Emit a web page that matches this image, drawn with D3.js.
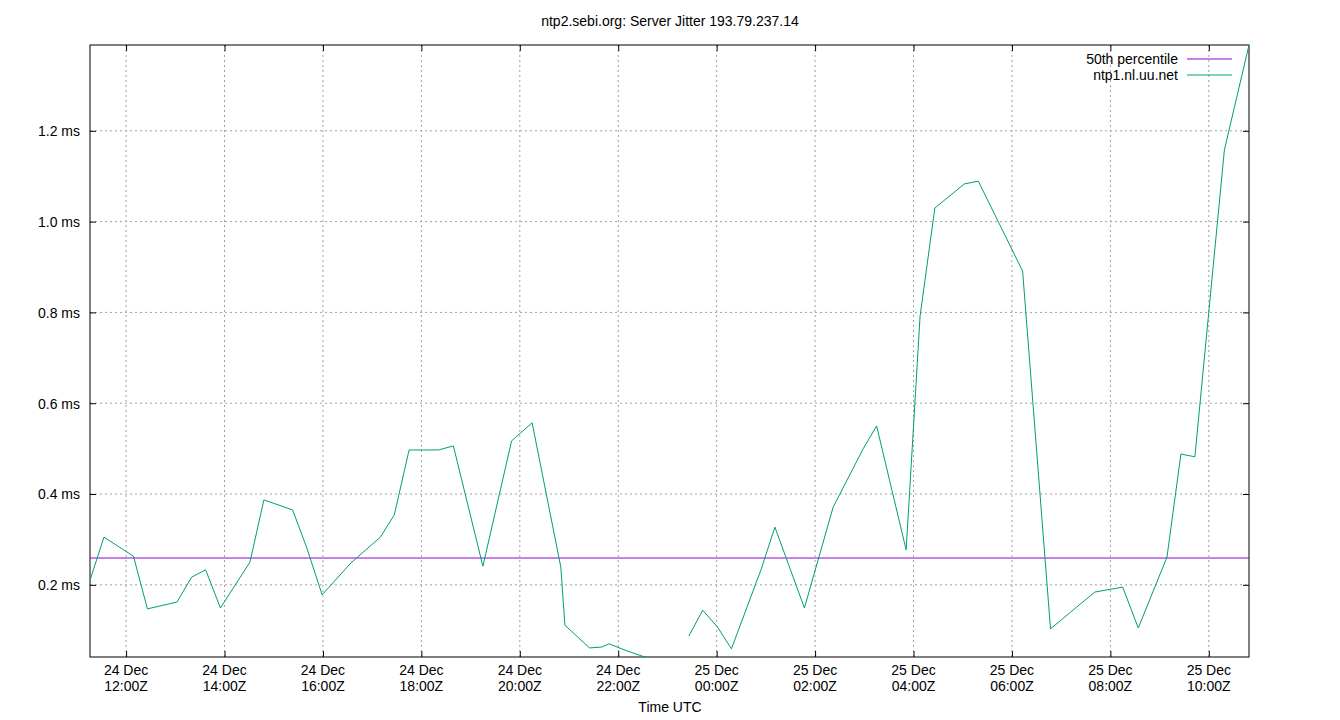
<!DOCTYPE html>
<html>
<head>
<meta charset="utf-8">
<script src="https://cdn.jsdelivr.net/npm/d3@7"></script>
<style>
body { margin: 0; background: #fff; }
text { font-family: "Liberation Sans", Arial, sans-serif; font-size: 14px; fill: #000; }
</style>
</head>
<body>
<script>
// times (UTC) and jitter in ms, null = gap
const times = ["2023-12-24T11:16","2023-12-24T11:33","2023-12-24T12:09","2023-12-24T12:26","2023-12-24T13:02","2023-12-24T13:20","2023-12-24T13:37","2023-12-24T13:55","2023-12-24T14:31","2023-12-24T14:48","2023-12-24T15:23","2023-12-24T15:40","2023-12-24T15:59","2023-12-24T16:34","2023-12-24T17:10","2023-12-24T17:27","2023-12-24T17:45","2023-12-24T18:21","2023-12-24T18:39","2023-12-24T19:15","2023-12-24T19:50","2023-12-24T20:15","2023-12-24T20:50","2023-12-24T20:55","2023-12-24T21:25","2023-12-24T21:40","2023-12-24T21:49","2023-12-24T22:07","2023-12-24T22:29","2023-12-24T22:50","2023-12-24T23:08","2023-12-24T23:26","2023-12-24T23:43","2023-12-25T00:01","2023-12-25T00:18","2023-12-25T00:54","2023-12-25T01:11","2023-12-25T01:47","2023-12-25T02:22","2023-12-25T02:59","2023-12-25T03:15","2023-12-25T03:51","2023-12-25T04:08","2023-12-25T04:26","2023-12-25T05:02","2023-12-25T05:19","2023-12-25T06:13","2023-12-25T06:47","2023-12-25T07:41","2023-12-25T08:15","2023-12-25T08:34","2023-12-25T09:09","2023-12-25T09:26","2023-12-25T09:43","2023-12-25T10:19","2023-12-25T10:49"];
const jitter = [0.21,0.305,0.263,0.147,0.162,0.217,0.233,0.149,0.25,0.387,0.365,0.283,0.178,0.248,0.305,0.354,0.497,0.497,0.506,0.241,0.517,0.557,0.239,0.111,0.061,0.063,0.07,0.057,0.043,0.035,null,0.087,0.144,0.107,0.059,0.233,0.327,0.149,0.371,0.501,0.55,0.277,0.792,1.03,1.083,1.089,0.891,0.103,0.184,0.195,0.105,0.261,0.488,0.482,1.158,1.389];
const median = 0.259;
const yTicks = [0.2, 0.4, 0.6, 0.8, 1.0, 1.2];
const xTicks = ["2023-12-24T12:00","2023-12-24T14:00","2023-12-24T16:00","2023-12-24T18:00","2023-12-24T20:00","2023-12-24T22:00","2023-12-25T00:00","2023-12-25T02:00","2023-12-25T04:00","2023-12-25T06:00","2023-12-25T08:00","2023-12-25T10:00"];

const parse = d3.utcParse("%Y-%m-%dT%H:%M");
const data = times.map((t, i) => ({ t: parse(t), v: jitter[i] }));

const W = 1340, H = 720;
const m = { l: 90, r: 1249, t: 45, b: 657 };

const svg = d3.select("body").append("svg").attr("width", W).attr("height", H);

const x = d3.scaleUtc().domain([parse("2023-12-24T11:16"), parse("2023-12-25T10:49")]).range([m.l, m.r]);
const y = d3.scaleLinear().domain([0.041, 1.389]).range([m.b, m.t]);

svg.append("clipPath").attr("id", "clip").append("rect")
    .attr("x", m.l).attr("y", m.t).attr("width", m.r - m.l).attr("height", m.b - m.t);

// grid
svg.append("g").selectAll("line").data(yTicks).enter().append("line")
    .attr("x1", m.l).attr("x2", m.r).attr("y1", d => y(d)).attr("y2", d => y(d))
    .attr("stroke", "#a0a0a0").attr("stroke-dasharray", "2,3");
svg.append("g").selectAll("line").data(xTicks).enter().append("line")
    .attr("x1", d => x(parse(d))).attr("x2", d => x(parse(d))).attr("y1", m.t).attr("y2", m.b)
    .attr("stroke", "#a0a0a0").attr("stroke-dasharray", "2,3");

// axes
const yAxis = d3.axisLeft(y).tickValues(yTicks).tickSize(-6).tickPadding(10).tickFormat(d => d3.format(".1f")(d) + " ms");
const ga = svg.append("g").attr("transform", `translate(${m.l},0)`).call(yAxis);
const yAxisR = d3.axisRight(y).tickValues(yTicks).tickSize(-6).tickFormat("");
const gr = svg.append("g").attr("transform", `translate(${m.r},0)`).call(yAxisR);
const xAxis = d3.axisBottom(x).tickValues(xTicks.map(parse)).tickSize(-6).tickFormat("");
const gx = svg.append("g").attr("transform", `translate(0,${m.b})`).call(xAxis);
const xAxisT = d3.axisTop(x).tickValues(xTicks.map(parse)).tickSize(-6).tickFormat("");
const gt = svg.append("g").attr("transform", `translate(0,${m.t})`).call(xAxisT);
[ga, gr, gx, gt].forEach(g => { g.select(".domain").remove(); g.selectAll("text").style("font-size", "14px").attr("fill", "#000"); });

ga.selectAll("text").attr("dy", "0.35em");

// x labels two lines
const fmtT = d3.utcFormat("%H:%MZ");
xTicks.forEach(d => {
    const t = parse(d);
    const lbl = svg.append("text").attr("text-anchor", "middle").attr("x", x(t));
    lbl.append("tspan").attr("x", x(t)).attr("y", 675).text(d3.utcFormat("%d %b")(t));
    lbl.append("tspan").attr("x", x(t)).attr("y", 691).text(fmtT(t));
});

svg.append("rect").attr("x", m.l).attr("y", m.t).attr("width", m.r - m.l).attr("height", m.b - m.t)
    .attr("fill", "none").attr("stroke", "#000");

// series
const plot = svg.append("g").attr("clip-path", "url(#clip)");
plot.append("line").attr("x1", m.l).attr("x2", m.r).attr("y1", y(median)).attr("y2", y(median))
    .attr("stroke", "#9400d3");
const line = d3.line().defined(d => d.v !== null).x(d => x(d.t)).y(d => y(d.v));
plot.append("path").datum(data).attr("d", line).attr("fill", "none").attr("stroke", "#009e73");

// legend
const leg = [["50th percentile", "#9400d3"], ["ntp1.nl.uu.net", "#009e73"]];
leg.forEach((l, i) => {
    svg.append("text").attr("x", 1178).attr("y", 64 + i * 16).attr("text-anchor", "end").text(l[0]);
    svg.append("line").attr("x1", 1187).attr("x2", 1232).attr("y1", 59 + i * 16).attr("y2", 59 + i * 16).attr("stroke", l[1]);
});

svg.append("text").attr("x", 670).attr("y", 26).attr("text-anchor", "middle").text("ntp2.sebi.org: Server Jitter 193.79.237.14");
svg.append("text").attr("x", 670).attr("y", 712).attr("text-anchor", "middle").text("Time UTC");
</script>
</body>
</html>
